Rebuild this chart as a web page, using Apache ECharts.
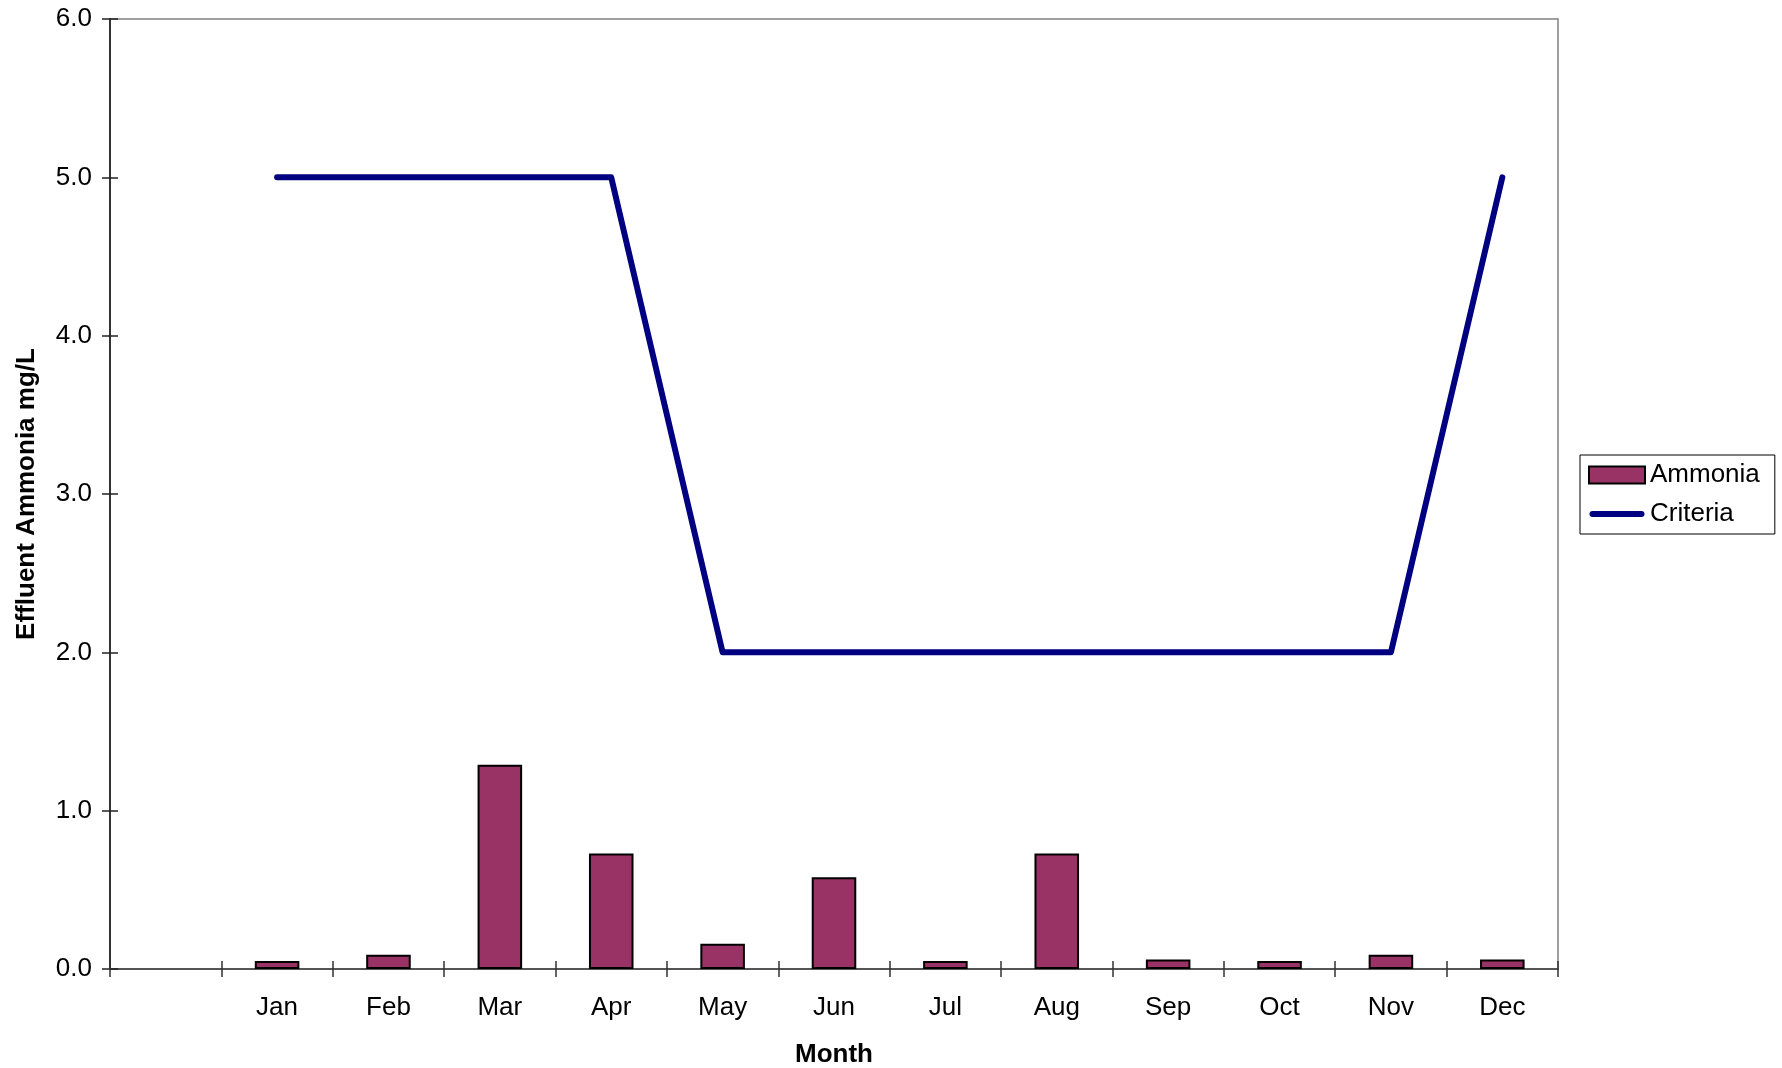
<!DOCTYPE html>
<html>
<head>
<meta charset="utf-8">
<script src="https://cdn.jsdelivr.net/npm/echarts@6/dist/echarts.min.js"></script>
<style>
    html, body { margin: 0; padding: 0; background: #fff; }
    #chart { width: 1782px; height: 1068px; }
</style>
</head>
<body>
<div id="chart"></div>
<script>
// data
var months = ['', 'Jan', 'Feb', 'Mar', 'Apr', 'May', 'Jun', 'Jul', 'Aug', 'Sep', 'Oct', 'Nov', 'Dec'];
var ammonia = [null, 0.05, 0.09, 1.29, 0.73, 0.16, 0.58, 0.05, 0.73, 0.06, 0.05, 0.09, 0.06];
var criteria = [null, 5, 5, 5, 5, 2, 2, 2, 2, 2, 2, 2, 5];
var yTicks = { min: 0, max: 6, interval: 1 };

var font = 'Liberation Sans, Arial, sans-serif';
// legend icon for the criteria line: thick rounded bar, padded top/bottom
var lineIcon = 'path://M0,0L0.01,0L0.01,0.01Z M0,17L0.01,17L0.01,16.99Z ' +
    'M3,5.5L52,5.5A3,3,0,0,1,52,11.5L3,11.5A3,3,0,0,1,3,5.5Z';

var chart = echarts.init(document.getElementById('chart'));
var option = {
    animation: false,
    backgroundColor: '#fff',
    textStyle: { fontFamily: font },
    grid: {
        left: 110, right: 224, top: 19, bottom: 99,
        outerBoundsMode: 'none',
        containLabel: false,
        show: true,
        borderColor: '#808080',
        borderWidth: 1.5
    },
    legend: {
        left: 1580,
        top: 455,
        orient: 'vertical',
        padding: [7, 15, 7, 8],
        itemGap: 13,
        itemWidth: 56,
        itemHeight: 17,
        borderColor: '#000',
        borderWidth: 1,
        textStyle: { fontSize: 26, color: '#000', fontFamily: font },
        data: [
            { name: 'Ammonia', icon: 'rect' },
            { name: 'Criteria', icon: lineIcon }
        ]
    },
    xAxis: [
        {
            type: 'category',
            data: months,
            name: 'Month',
            nameLocation: 'middle',
            nameGap: 73,
            nameTextStyle: { fontSize: 26, fontWeight: 'bold', color: '#000' },
            axisLine: { lineStyle: { color: '#555', width: 2 } },
            axisTick: { show: true, length: 8, lineStyle: { color: '#333', width: 1.5 } },
            axisLabel: { fontSize: 26, color: '#000', margin: 26 }
        },
        {
            type: 'category',
            data: months,
            position: 'bottom',
            axisLine: { show: false },
            axisTick: { show: true, inside: true, length: 8, lineStyle: { color: '#333', width: 1.5 } },
            axisLabel: { show: false }
        }
    ],
    yAxis: [
        {
            type: 'value',
            min: yTicks.min, max: yTicks.max, interval: yTicks.interval,
            name: 'Effluent Ammonia mg/L',
            nameLocation: 'middle',
            nameGap: 70,
            nameTextStyle: { fontSize: 26, fontWeight: 'bold', color: '#000' },
            axisLine: { show: true, lineStyle: { color: '#333', width: 2 } },
            axisTick: { show: true, length: 8, lineStyle: { color: '#222', width: 1.5 } },
            axisLabel: {
                fontSize: 26, color: '#000', margin: 18,
                formatter: function (v) { return v.toFixed(1); }
            },
            splitLine: { show: false }
        },
        {
            type: 'value',
            position: 'left',
            min: yTicks.min, max: yTicks.max, interval: yTicks.interval,
            axisLine: { show: false },
            axisTick: { show: true, inside: true, length: 8, lineStyle: { color: '#222', width: 1.5 } },
            axisLabel: { show: false },
            splitLine: { show: false }
        }
    ],
    series: [
        {
            name: 'Ammonia',
            type: 'bar',
            barWidth: '40%',
            data: ammonia,
            itemStyle: { color: '#993366', borderColor: '#000', borderWidth: 2 }
        },
        {
            name: 'Criteria',
            type: 'line',
            data: criteria,
            symbol: 'none',
            lineStyle: { color: '#000080', width: 6, cap: 'round', join: 'round' },
            itemStyle: { color: '#000080' }
        }
    ]
};
chart.setOption(option);
</script>
</body>
</html>
